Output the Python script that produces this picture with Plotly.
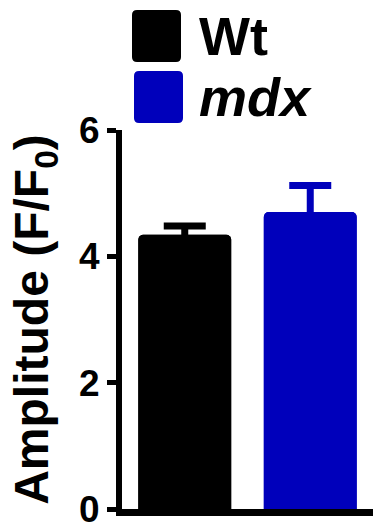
import plotly.graph_objects as go

groups = ["Wt", "mdx"]
means = [4.34, 4.70]
sems = [0.14, 0.42]
colors = ["#000000", "#0000BB"]
y_ticks = [0, 2, 4, 6]
y_title = "Amplitude (F/F<sub>0</sub>)"

W, H = 373, 531
ML, MR, MT, MB = 122, 0, 130, 22
pw, ph = W - ML - MR, H - MT - MB
FONT = "Liberation Sans"

fig = go.Figure()
# bars with symmetric error bars, then the same bars again on top to hide the lower half
for g, m, s, c in zip(groups, means, sems, colors):
    fig.add_trace(go.Bar(
        x=[g], y=[m], name=g, width=0.74,
        marker=dict(color=c, line=dict(width=0), cornerradius=5),
        error_y=dict(type="data", array=[s], color=c, thickness=7, width=21),
        showlegend=False, hoverinfo="skip",
    ))
for g, m, c in zip(groups, means, colors):
    fig.add_trace(go.Bar(
        x=[g], y=[m], name=g, width=0.74,
        marker=dict(color=c, line=dict(width=0), cornerradius=5),
        showlegend=False,
    ))

def px2paper(x, y):
    return (x - ML) / pw, (H - MB - y) / ph

def rrect(x0, y0, x1, y1, r=5):
    a0, b0 = px2paper(x0, y1)
    a1, b1 = px2paper(x1, y0)
    rx, ry = r / pw, r / ph
    return (f"M {a0+rx},{b0} L {a1-rx},{b0} Q {a1},{b0} {a1},{b0+ry} "
            f"L {a1},{b1-ry} Q {a1},{b1} {a1-rx},{b1} L {a0+rx},{b1} "
            f"Q {a0},{b1} {a0},{b1-ry} L {a0},{b0+ry} Q {a0},{b0} {a0+rx},{b0} Z")

leg_boxes = [(132, 10, 181, 62), (134, 71, 183, 123)]
for (x0, y0, x1, y1), g, c in zip(leg_boxes, groups, colors):
    fig.add_shape(type="path", path=rrect(x0, y0, x1, y1), xref="paper", yref="paper",
                  fillcolor=c, line=dict(width=0))
    tx, ty = px2paper(197, (y0 + y1) / 2)
    label = g if g == "Wt" else f"<i>{g}</i>"
    fig.add_annotation(x=tx, y=ty, xref="paper", yref="paper", text=label,
                       showarrow=False, xanchor="left", yanchor="middle",
                       font=dict(family=FONT, size=54, color="black", weight="bold"))

fig.update_layout(
    width=W, height=H, margin=dict(l=ML, r=MR, t=MT, b=MB, pad=0),
    paper_bgcolor="white", plot_bgcolor="white", barmode="overlay",
    font=dict(family=FONT, color="black"),
    showlegend=False,
)
fig.update_xaxes(showticklabels=False, ticks="", showline=True, linewidth=7,
                 linecolor="black", showgrid=False, zeroline=False)
fig.update_yaxes(range=[0, 6], tickvals=y_ticks, ticktext=[str(t) for t in y_ticks],
                 ticks="outside", ticklen=9, tickwidth=5, tickcolor="black",
                 showline=True, linewidth=6, linecolor="black", showgrid=False,
                 zeroline=False, automargin=False,
                 tickfont=dict(family=FONT, size=37, color="black", weight="bold"),
                 title=dict(text=y_title, standoff=17,
                            font=dict(family=FONT, size=48, color="black", weight="bold")))
fig.write_html("out.html", config={"displayModeBar": False},
               post_script="document.body.style.margin='0';document.body.style.overflow='hidden';")
